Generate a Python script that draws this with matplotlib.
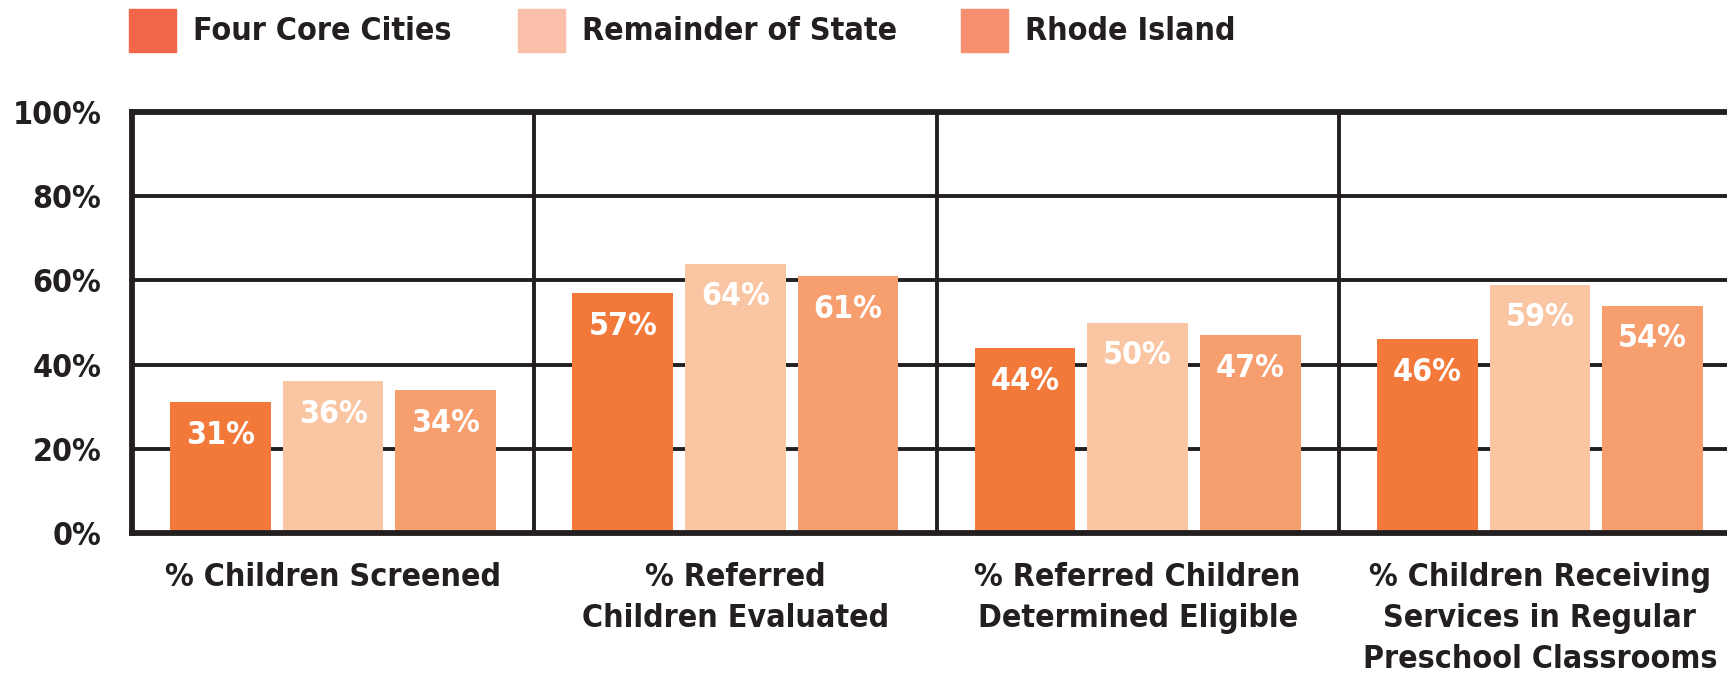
import matplotlib.pyplot as plt
from matplotlib.patches import Rectangle

plt.rcParams['font.family'] = ['DejaVu Sans']
plt.rcParams['font.stretch'] = 'condensed'
plt.rcParams['font.weight'] = 'bold'

# data
categories = ['% Children Screened',
              '% Referred\nChildren Evaluated',
              '% Referred Children\nDetermined Eligible',
              '% Children Receiving\nServices in Regular\nPreschool Classrooms']
series = ['Four Core Cities', 'Remainder of State', 'Rhode Island']
core_cities = [31, 57, 44, 46]
remainder = [36, 64, 50, 59]
rhode_island = [34, 61, 47, 54]
values = [core_cities, remainder, rhode_island]
y_ticks = [0, 20, 40, 60, 80, 100]
y_labels = ['0%', '20%', '40%', '60%', '80%', '100%']

bar_colors = ['#F3793A', '#F9C5A2', '#F79E6E']
legend_colors = ['#F26649', '#F9BFA8', '#F58F70']
ink = '#231F20'

fig = plt.figure(figsize=(17.27, 6.76), dpi=100)
ax = fig.add_axes([132 / 1727, 1 - 533 / 676, 1609 / 1727, 421 / 676])

offsets = [-0.28, 0, 0.28]
for s in range(3):
    xs = [i + 0.5 + offsets[s] for i in range(len(categories))]
    bars = ax.bar(xs, values[s], width=0.25, color=bar_colors[s], zorder=3)
    for b, v in zip(bars, values[s]):
        ax.annotate(f'{v}%', (b.get_x() + b.get_width() / 2, v),
                    xytext=(0, -24), textcoords='offset points',
                    ha='center', va='center', color='white',
                    fontsize=23, fontweight='bold', zorder=4)

# grid and panel dividers
for y in y_ticks[1:-1]:
    ax.axhline(y, color=ink, lw=2.8, zorder=1)
for x in range(1, len(categories)):
    ax.axvline(x, color=ink, lw=2.8, zorder=1)

ax.set_xlim(0, len(categories))
ax.set_ylim(0, 100)
for side in ['top', 'left', 'bottom', 'right']:
    ax.spines[side].set_linewidth(4.2)
    ax.spines[side].set_color(ink)
    ax.spines[side].set_zorder(5)

ax.set_yticks(y_ticks)
ax.set_yticklabels(y_labels, fontsize=23, fontweight='bold', color=ink)
ax.tick_params(axis='y', length=0, pad=22)
ax.set_xticks([])

for i, c in enumerate(categories):
    ax.annotate(c, (i + 0.5, 0), xytext=(0, -21), textcoords='offset points',
                ha='center', va='top', fontsize=23, fontweight='bold',
                color=ink, linespacing=1.42, annotation_clip=False)

# legend drawn by hand
leg_x = [129, 518, 961]
for lx, name, col in zip(leg_x, series, legend_colors):
    fig.patches.append(Rectangle((lx / 1727, 1 - 52 / 676), 47 / 1727, 43 / 676,
                                 transform=fig.transFigure, color=col))
    fig.text((lx + 64) / 1727, 1 - 31 / 676, name, ha='left', va='center',
             fontsize=23, fontweight='bold', color=ink)

fig.savefig('out.png', dpi=100)
